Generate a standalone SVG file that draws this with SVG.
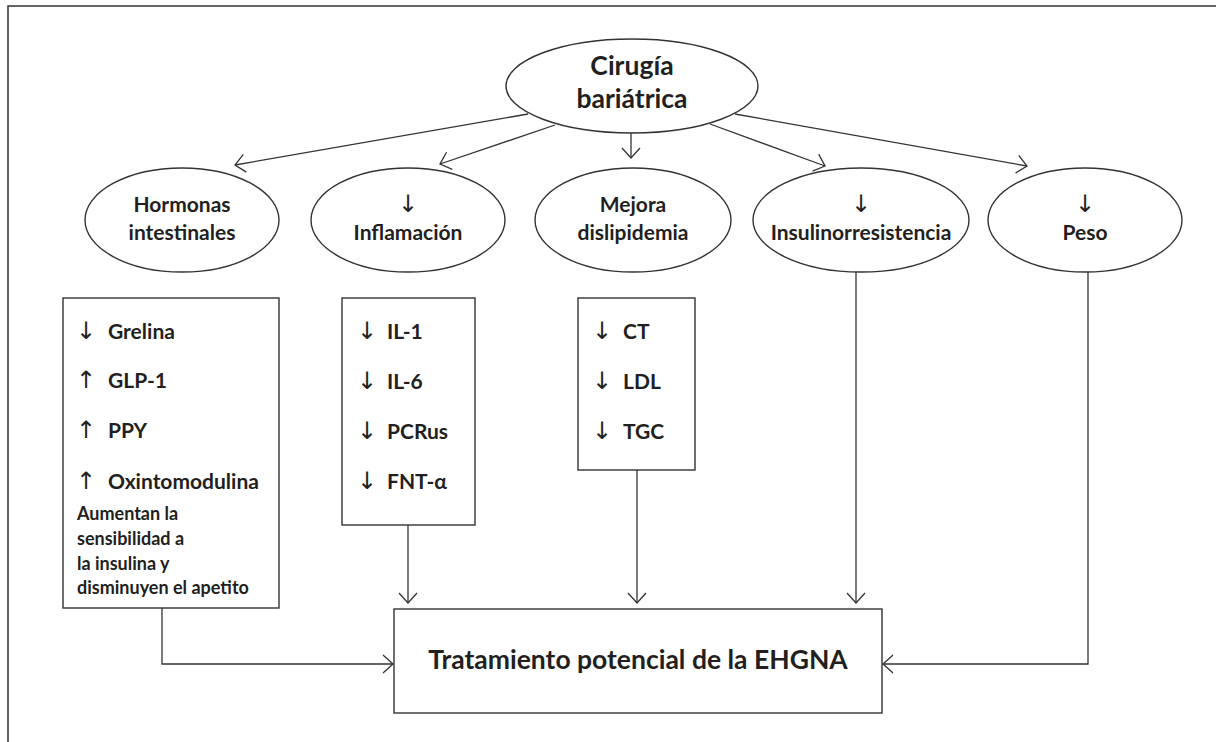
<svg xmlns="http://www.w3.org/2000/svg" width="1216" height="742" viewBox="0 0 1216 742">
<defs>
<marker id="ah" markerUnits="userSpaceOnUse" markerWidth="24" markerHeight="24" viewBox="-12 -12 24 24" refX="0" refY="0" orient="auto">
<path d="M-10,-9 L0,0 L-10,9" fill="none" stroke="#333" stroke-width="1.3"/>
</marker>
<style>
.shape{fill:#fff;stroke:#333;stroke-width:1.4}
.conn{fill:none;stroke:#333;stroke-width:1.3;marker-end:url(#ah)}
.t{font-family:Lato,"Open Sans","Liberation Sans",sans-serif;font-weight:bold;fill:#231f20}
.big{font-size:26.5px}
.mid{font-size:21px}
.sm{font-size:18px}
.ar{font-family:"DejaVu Sans",sans-serif;font-weight:normal;font-size:24px;fill:#231f20}
.c{text-anchor:middle}
</style>
</defs>
<rect width="1216" height="742" fill="#fff"/>
<path d="M8,742 L8,6 L1216,6" fill="none" stroke="#333" stroke-width="1.5"/>

<g id="connectors">
<line class="conn" x1="528" y1="114" x2="235" y2="165"/>
<line class="conn" x1="555" y1="125" x2="440" y2="164"/>
<line class="conn" x1="631" y1="133" x2="631" y2="158"/>
<line class="conn" x1="710" y1="124" x2="825" y2="166"/>
<line class="conn" x1="735" y1="114" x2="1027" y2="166"/>
<polyline class="conn" points="162,608 162,664 393,664"/>
<line class="conn" x1="408" y1="525" x2="408" y2="603"/>
<line class="conn" x1="637" y1="470" x2="637" y2="603"/>
<line class="conn" x1="856" y1="272" x2="856" y2="603"/>
<polyline class="conn" points="1088,272 1088,664 883,664"/>
</g>

<g id="cirugia">
<ellipse class="shape" cx="632" cy="86" rx="126" ry="47"/>
<text class="t big c" x="632" y="75">Cirugía</text>
<text class="t big c" x="632" y="108">bariátrica</text>
</g>

<g id="hormonas">
<ellipse class="shape" cx="182" cy="220" rx="97" ry="52"/>
<text class="t mid c" x="182" y="212">Hormonas</text>
<text class="t mid c" x="182" y="240">intestinales</text>
</g>

<g id="inflamacion">
<ellipse class="shape" cx="408" cy="220" rx="97" ry="52"/>
<text class="ar c" x="408" y="212">↓</text>
<text class="t mid c" x="408" y="240">Inflamación</text>
</g>

<g id="mejora">
<ellipse class="shape" cx="633" cy="220" rx="98" ry="52"/>
<text class="t mid c" x="633" y="212">Mejora</text>
<text class="t mid c" x="633" y="240">dislipidemia</text>
</g>

<g id="insulino">
<ellipse class="shape" cx="861" cy="220" rx="108" ry="52"/>
<text class="ar c" x="861" y="212">↓</text>
<text class="t mid c" x="861" y="240">Insulinorresistencia</text>
</g>

<g id="peso">
<ellipse class="shape" cx="1085" cy="220" rx="97" ry="52"/>
<text class="ar c" x="1085" y="212">↓</text>
<text class="t mid c" x="1085" y="240">Peso</text>
</g>

<g id="box-hormonas">
<rect class="shape" x="63" y="298" width="216" height="310"/>
<text class="ar c" x="86" y="339">↓</text><text class="t mid" x="108" y="339">Grelina</text>
<text class="ar c" x="86" y="388">↑</text><text class="t mid" x="108" y="388">GLP-1</text>
<text class="ar c" x="86" y="438">↑</text><text class="t mid" x="108" y="438">PPY</text>
<text class="ar c" x="86" y="489">↑</text><text class="t mid" x="108" y="489">Oxintomodulina</text>
<text class="t sm" x="77" y="520">Aumentan la</text>
<text class="t sm" x="77" y="545">sensibilidad a</text>
<text class="t sm" x="77" y="570">la insulina y</text>
<text class="t sm" x="77" y="594">disminuyen el apetito</text>
</g>

<g id="box-inflamacion">
<rect class="shape" x="342" y="298" width="133" height="227"/>
<text class="ar c" x="367" y="339">↓</text><text class="t mid" x="387" y="339">IL-1</text>
<text class="ar c" x="367" y="389">↓</text><text class="t mid" x="387" y="389">IL-6</text>
<text class="ar c" x="367" y="439">↓</text><text class="t mid" x="387" y="439">PCRus</text>
<text class="ar c" x="367" y="489">↓</text><text class="t mid" x="387" y="489">FNT-α</text>
</g>

<g id="box-lipidos">
<rect class="shape" x="578" y="298" width="117" height="172"/>
<text class="ar c" x="602" y="339">↓</text><text class="t mid" x="623" y="339">CT</text>
<text class="ar c" x="602" y="389">↓</text><text class="t mid" x="623" y="389">LDL</text>
<text class="ar c" x="602" y="439">↓</text><text class="t mid" x="623" y="439">TGC</text>
</g>

<g id="tratamiento">
<rect class="shape" x="394" y="609" width="488" height="104"/>
<text class="t big c" x="638" y="669">Tratamiento potencial de la EHGNA</text>
</g>
</svg>
